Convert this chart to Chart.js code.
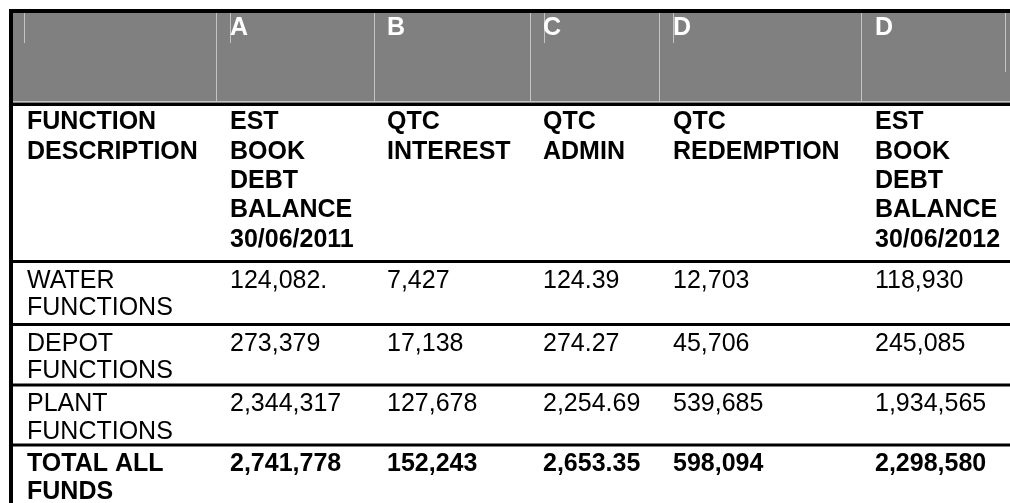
<!DOCTYPE html>
<html>
<head>
<meta charset="utf-8">
<script src="https://cdn.jsdelivr.net/npm/chart.js@4/dist/chart.umd.min.js"></script>
<style>
  html, body { margin:0; padding:0; background:#fff; overflow:hidden; }
  #debtTable { display:block; }
</style>
</head>
<body>
<canvas id="debtTable" width="1010" height="503"></canvas>
<script>
// table content
const columnLetters = ['', 'A', 'B', 'C', 'D', 'D'];
const columnTitles = [
  'FUNCTION\nDESCRIPTION',
  'EST\nBOOK\nDEBT\nBALANCE\n30/06/2011',
  'QTC\nINTEREST',
  'QTC\nADMIN',
  'QTC\nREDEMPTION',
  'EST\nBOOK\nDEBT\nBALANCE\n30/06/2012'
];
const categories = ['WATER\nFUNCTIONS', 'DEPOT\nFUNCTIONS', 'PLANT\nFUNCTIONS', 'TOTAL ALL\nFUNDS'];
const estBalance2011 = ['124,082.', '273,379', '2,344,317', '2,741,778'];
const qtcInterest = ['7,427', '17,138', '127,678', '152,243'];
const qtcAdmin = ['124.39', '274.27', '2,254.69', '2,653.35'];
const qtcRedemption = ['12,703', '45,706', '539,685', '598,094'];
const estBalance2012 = ['118,930', '245,085', '1,934,565', '2,298,580'];
const boldRows = [false, false, false, true];

// layout (in scale units, x 0..1010, y 0..503)
const colEdges = [9, 216, 374, 530, 659, 861];
const textX = [27, 230, 387, 543, 673, 875];
const caretMarks = [[24, 43], [230, 43], [544, 43], [673, 43], [1005, 72]];
const headerBand = [13, 101];
const rules = [[9, 4], [102.5, 3.5], [260, 3], [323, 3], [383.5, 3], [443.5, 3]]; // top, thickness
const FONT = '"Liberation Sans", Arial, sans-serif';

const tablePlugin = {
  id: 'tableCells',
  beforeDraw(chart){
    const ctx = chart.ctx;
    const sx = chart.scales.x, sy = chart.scales.y;
    const px = v => sx.getPixelForValue(v);
    const py = v => sy.getPixelForValue(v);
    const left = px(colEdges[0]);
    const right = px(sx.max);
    const bottom = py(sy.max);
    ctx.save();
    ctx.fillStyle = '#fff';
    ctx.fillRect(0, 0, chart.width, chart.height);

    // grey header band
    ctx.fillStyle = '#808080';
    ctx.fillRect(left, py(headerBand[0]), right - left, py(headerBand[1]) - py(headerBand[0]) + 1);

    // light separators inside the band
    ctx.fillStyle = '#c4c4c4';
    colEdges.slice(1).forEach(e => ctx.fillRect(px(e), py(headerBand[0]), 1, py(headerBand[1]) - py(headerBand[0])));
    caretMarks.forEach(([cx, cy]) => ctx.fillRect(px(cx), py(headerBand[0]), 1, py(cy) - py(headerBand[0])));
    ctx.fillRect(left, py(headerBand[1]), right - left, 1);

    // black rules
    ctx.fillStyle = '#000';
    rules.forEach(([t, h]) => ctx.fillRect(left, py(t), right - left, h));
    ctx.fillRect(left, py(9), 4, bottom - py(9));

    const drawLines = (txt, x, y0, pitch, bold, color) => {
      ctx.font = (bold ? 'bold ' : '') + '25px ' + FONT;
      ctx.fillStyle = color;
      txt.split('\n').forEach((ln, i) => ctx.fillText(ln, px(x), py(y0 + i * pitch)));
    };
    ctx.textBaseline = 'alphabetic';
    ctx.textAlign = 'left';

    // column letters
    columnLetters.forEach((l, i) => drawLines(l, textX[i], 35, 0, true, '#fff'));
    // column titles
    columnTitles.forEach((t, i) => drawLines(t, textX[i], 129.4, 29.3, true, '#000'));
    // body rows
    const columns = [categories, estBalance2011, qtcInterest, qtcAdmin, qtcRedemption, estBalance2012];
    categories.forEach((c, r) => {
      columns.forEach((col, i) => drawLines(col[r], textX[i], rules[r + 2][0] + 27.5, 27.7, boldRows[r], '#000'));
    });
    ctx.restore();
  }
};

new Chart(document.getElementById('debtTable').getContext('2d'), {
  type: 'scatter',
  data: { datasets: [] },
  options: {
    responsive: false,
    animation: false,
    layout: { padding: 0 },
    plugins: { legend: { display: false }, tooltip: { enabled: false } },
    scales: {
      x: { type: 'linear', min: 0, max: 1010, display: false },
      y: { type: 'linear', min: 0, max: 503, reverse: true, display: false }
    }
  },
  plugins: [tablePlugin]
});
</script>
</body>
</html>
